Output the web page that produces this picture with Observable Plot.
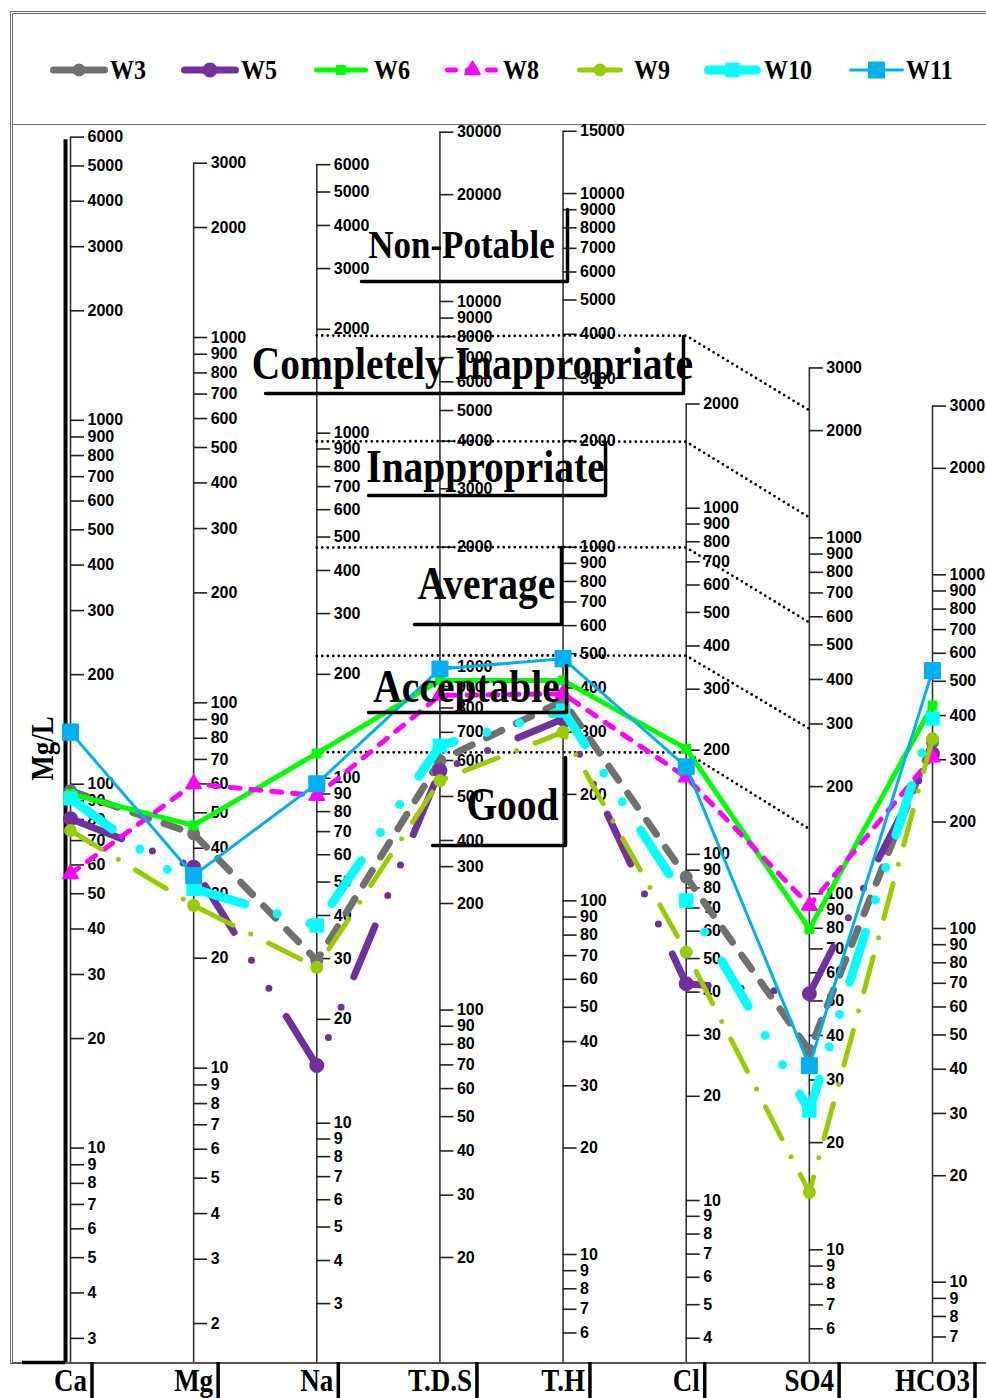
<!DOCTYPE html>
<html>
<head>
<meta charset="utf-8">
<script src="https://cdn.jsdelivr.net/npm/d3@7"></script>
<script src="https://cdn.jsdelivr.net/npm/@observablehq/plot@0.6"></script>
<style>
  html,body{margin:0;padding:0;background:#fff;}
  body{position:relative;width:986px;height:1398px;overflow:hidden;}
  #frame{position:absolute;left:10px;top:11px;width:1010px;height:1353px;box-sizing:border-box;border-left:3px double #777;border-top:3px double #666;border-bottom:2px solid #555;}
  #legendbox{position:absolute;left:12px;top:14px;width:1000px;height:111px;box-sizing:border-box;border-bottom:1px solid #777;}
  .sw{position:absolute;top:60px;overflow:visible;}
  .lt{position:absolute;top:56px;font:bold 24px "Liberation Serif","Times New Roman",serif;line-height:28px;transform:scaleY(1.15);transform-origin:left center;color:#000;}
  #chart{position:absolute;left:0;top:125px;}
</style>
</head>
<body>
<div id="frame"></div>
<div id="legendbox"></div>
<div id="legend"></div>
<div id="chart"></div>
<script>
// ---------------- DATA ----------------
const params = ["Ca", "Mg", "Na", "T.D.S", "T.H", "Cl", "SO4", "HCO3"];
const wellNames = ["W3", "W5", "W6", "W8", "W9", "W10", "W11"];
//            Ca    Mg    Na     TDS  TH   Cl    SO4   HCO3   (mg/L)
const W3  = [96,   43.8, 29.6,  600, 368, 86,   36.3, 336];
const W5  = [80.4, 35.5, 14.7,  570, 327, 42.3, 52.4, 312];
const W6  = [94,   46.2, 118,   930, 420, 202,  79.7, 427];
const W8  = [56.7, 60,   89,    857, 385, 167,  92.7, 305];
const W9  = [74.6, 27.9, 28.3,  542, 300, 52.2, 14.5, 344];
const W10 = [91.4, 31,   37.4,  651, 345, 73.6, 24.6, 392];
const W11 = [139,  33.7, 96.4,  990, 484, 179,  32.9, 536];
const wellValues = [W3, W5, W6, W8, W9, W10, W11];

// tick labels of each vertical axis
const ticksCa   = [6000,5000,4000,3000,2000,1000,900,800,700,600,500,400,300,200,100,90,80,70,60,50,40,30,20,10,9,8,7,6,5,4,3];
const ticksMg   = [3000,2000,1000,900,800,700,600,500,400,300,200,100,90,80,70,60,50,40,30,20,10,9,8,7,6,5,4,3,2];
const ticksNa   = [6000,5000,4000,3000,2000,1000,900,800,700,600,500,400,300,200,100,90,80,70,60,50,40,30,20,10,9,8,7,6,5,4,3];
const ticksTDS  = [30000,20000,10000,9000,8000,7000,6000,5000,4000,3000,2000,1000,900,800,700,600,500,400,300,200,100,90,80,70,60,50,40,30,20];
const ticksTH   = [15000,10000,9000,8000,7000,6000,5000,4000,3000,2000,1000,900,800,700,600,500,400,300,200,100,90,80,70,60,50,40,30,20,10,9,8,7,6];
const ticksCl   = [2000,1000,900,800,700,600,500,400,300,200,100,90,80,70,60,50,40,30,20,10,9,8,7,6,5,4];
const ticksSO4  = [3000,2000,1000,900,800,700,600,500,400,300,200,100,90,80,70,60,50,40,30,20,10,9,8,7,6];
const ticksHCO3 = [3000,2000,1000,900,800,700,600,500,400,300,200,100,90,80,70,60,50,40,30,20,10,9,8,7];
const axisTicks = [ticksCa, ticksMg, ticksNa, ticksTDS, ticksTH, ticksCl, ticksSO4, ticksHCO3];

// water-quality class boundaries (values on Na, T.D.S, T.H, Cl, SO4)
const categories = ["Non-Potable", "Completely Inappropriate", "Inappropriate", "Average", "Acceptable", "Good"];
const boundaryAxes = [2, 3, 4, 5, 6];
const boundary1 = [1920, 8000, 3970, 3150, 2280];
const boundary2 = [946, 4000, 1990, 1556, 1140];
const boundary3 = [466, 2000, 1000, 770, 578];
const boundary4 = [226, 1070, 494, 375, 291];
const boundary5 = [119, 627, 263, 197, 152];
const boundaries = [boundary1, boundary2, boundary3, boundary4, boundary5];

// ---------------- SCALE CALIBRATION (per-axis log scales onto a shared vertical unit) ----------------
const axisCal = [
  [[10, 1.0], [1000, 3.0]],
  [[10, 1.2196], [1000, 3.2275]],
  [[10, 1.0684], [1000, 2.9646]],
  [[20, 0.6994], [200, 1.6722], [400, 1.8453], [600, 2.0651], [1000, 2.3215], [2000, 2.6513], [3000, 2.8118], [4000, 2.9426], [5000, 3.0269], [10000, 3.3265], [30000, 3.7917]],
  [[10, 0.7076], [1000, 2.6513]],
  [[10, 0.8560], [1000, 2.7584]],
  [[10, 0.7205], [1000, 2.6771]],
  [[10, 0.6315], [1000, 2.5754]]
];
const cal = axisCal.map(a => d3.scaleLog().domain(a.map(d => d[0])).range(a.map(d => d[1])));
const U = (axis, v) => cal[axis](v);
const Y_DOMAIN = [0.41083, 3.81011];
const PX_X = 862 / 7, PX_U = 363.9;

// ---------------- STYLES ----------------
const wellColors = ["#707070", "#7030a0", "#00ff00", "#ff00ff", "#99cc00", "#00ffff", "#00b0f0"];
const wellStyle = [
  {width: 7, dash: "17,16", symbol: "circle", r: 5.5},
  {width: 7, dash: "55,33,0,33,0,33", symbol: "circle", r: 6.5},
  {width: 5, dash: undefined, symbol: "square", r: 4.5},
  {width: 5, dash: "10,11", symbol: "triangle", r: 5.5},
  {width: 5, dash: "36,20,0,20", symbol: "circle", r: 5.5},
  {width: 9, dash: "52,34,0,34,0,34", symbol: "square", r: 7},
  {width: 3, dash: undefined, symbol: "square", r: 8.5}
];
const catBoxes = [
  {x1: 2.363, x2: 4.036, yb: 3.3814, yt: 3.5793, tx: 3.175, ty: 3.4804, size: 35},
  {x1: 1.584, x2: 4.978, yb: 3.0736, yt: 3.2303, tx: 3.264, ty: 3.1534, size: 39.5},
  {x1: 2.420, x2: 4.345, yb: 2.7934, yt: 2.9390, tx: 3.370, ty: 2.8703, size: 39.5},
  {x1: 2.793, x2: 3.987, yb: 2.4388, yt: 2.6505, tx: 3.378, ty: 2.5488, size: 39.5},
  {x1: 2.420, x2: 4.028, yb: 2.1970, yt: 2.3262, tx: 3.216, ty: 2.2658, size: 39.5},
  {x1: 2.940, x2: 4.020, yb: 1.8315, yt: 2.0734, tx: 3.589, ty: 1.9415, size: 39.5}
];
const SERIF = "Liberation Serif, Times New Roman, serif";
const SANS = "Liberation Sans, Arial, sans-serif";

// ---------------- MARKS ----------------
const marks = [];
const yMin = Y_DOMAIN[0];

// axis lines
const axisLines = params.map((p, i) => ({i, top: U(i, axisTicks[i][0])}));
marks.push(Plot.ruleX(axisLines, {x: "i", y1: "top", y2: () => yMin, stroke: "#333", strokeWidth: 1.6}));
// thick Mg/L bar beside Ca axis
marks.push(Plot.ruleX([0], {x: () => -5 / PX_X, y1: () => U(0, 5900), y2: () => yMin, stroke: "#000", strokeWidth: 4}));
marks.push(Plot.ruleY([0], {y: () => yMin, x1: () => -48 / PX_X, x2: () => -5 / PX_X, stroke: "#000", strokeWidth: 3.5}));

// ticks + labels
const tickData = axisTicks.flatMap((arr, i) => arr.map(v => ({i, v, u: U(i, v)})));
marks.push(Plot.ruleY(tickData, {y: "u", x1: "i", x2: d => d.i + 14 / PX_X, stroke: "#222", strokeWidth: 1.6}));
marks.push(Plot.text(tickData, {x: "i", y: "u", text: d => String(d.v), dx: 17, textAnchor: "start", fontSize: 16, fontWeight: "bold", fontFamily: SANS, fill: "#000"}));

// boundary dotted lines
const boundaryData = boundaries.flatMap((b, k) => b.map((v, j) => ({k, i: boundaryAxes[j], u: U(boundaryAxes[j], v)})));
marks.push(Plot.line(boundaryData, {x: "i", y: "u", z: "k", stroke: "#000", strokeWidth: 2.8, strokeDasharray: "0,5.5", strokeLinecap: "round"}));

// wells
wellValues.forEach((vals, k) => {
  const st = wellStyle[k];
  const data = vals.map((v, i) => ({i, u: U(i, v), well: wellNames[k]}));
  marks.push(Plot.line(data, {x: "i", y: "u", stroke: wellColors[k], strokeWidth: st.width, strokeDasharray: st.dash, strokeLinecap: "round", strokeLinejoin: "round"}));
  marks.push(Plot.dot(data, {x: "i", y: "u", symbol: st.symbol, r: st.r, fill: wellColors[k], stroke: wellColors[k], strokeWidth: 2, strokeLinejoin: "round"}));
});

// category labels with their boxes
const catLines = catBoxes.flatMap((b, k) => [
  {k, x: b.x1, u: b.yb}, {k, x: b.x2, u: b.yb}, {k, x: b.x2, u: b.yt}
]);
marks.push(Plot.line(catLines, {x: "x", y: "u", z: "k", stroke: "#000", strokeWidth: 3.5}));
catBoxes.forEach((b, k) => {
  marks.push(Plot.text([categories[k]], {x: () => b.tx, y: () => b.ty, text: d => d, fontSize: b.size, fontWeight: "bold", fontFamily: SERIF, fill: "#000"}));
});

// bottom parameter labels with bars
const ctx = document.createElement("canvas").getContext("2d");
ctx.font = "bold 27px 'Liberation Serif'";
const bottom = params.map((p, i) => ({i, p, w: ctx.measureText(p).width}));
marks.push(Plot.text(bottom, {x: "i", y: () => yMin, dy: 19, text: "p", fontSize: 27, fontWeight: "bold", fontFamily: SERIF, fill: "#000"}));
marks.push(Plot.ruleX(bottom, {x: d => d.i + (d.w / 2 + 5) / PX_X, y1: () => yMin, y2: () => yMin - 36 / PX_U, stroke: "#000", strokeWidth: 3.5}));

// y title
marks.push(Plot.text(["Mg/L"], {x: () => -27 / PX_X, y: () => 2.098, text: d => d, rotate: -90, fontSize: 27, fontWeight: "bold", fontFamily: SERIF, fill: "#000"}));

const chart = Plot.plot({
  width: 986,
  height: 1273,
  marginTop: 0, marginRight: 0, marginBottom: 36, marginLeft: 12,
  style: {background: "transparent", overflow: "visible"},
  x: {domain: [0, 7], range: [70, 932], axis: null},
  y: {domain: Y_DOMAIN, axis: null},
  marks
});
document.getElementById("chart").appendChild(chart);
// serif labels in the source are drawn tall and narrow
chart.querySelectorAll('g[font-family*="Serif"] > text').forEach(t => {
  t.setAttribute("transform", (t.getAttribute("transform") || "") + " scale(1,1.15)");
});

// ---------------- LEGEND ----------------
const legendX = [50, 181, 314, 445, 577, 704, 849];
const legendW = [58, 58, 54, 55, 46, 57, 55];
const legendTextX = [110, 241, 374, 503, 634, 764, 906];
const symbols = {circle: d3.symbolCircle, square: d3.symbolSquare, triangle: d3.symbolTriangle};
wellNames.forEach((name, k) => {
  const st = wellStyle[k];
  const w = legendW[k];
  const svg = d3.select("#legend").append("svg").attr("class", "sw")
    .style("left", legendX[k] + "px").attr("width", w).attr("height", 20);
  svg.append("line").attr("x1", st.width / 2).attr("x2", w - st.width / 2).attr("y1", 10).attr("y2", 10)
    .attr("stroke", wellColors[k]).attr("stroke-width", st.width).attr("stroke-linecap", "round")
    .attr("stroke-dasharray", k === 3 ? "8,12" : null);
  svg.append("path").attr("transform", `translate(${w / 2},10)`)
    .attr("d", d3.symbol(symbols[st.symbol], Math.PI * st.r * st.r)())
    .attr("fill", wellColors[k]).attr("stroke", wellColors[k]).attr("stroke-width", 2).attr("stroke-linejoin", "round");
  d3.select("#legend").append("div").attr("class", "lt").style("left", legendTextX[k] + "px").text(name);
});
</script>
</body>
</html>
